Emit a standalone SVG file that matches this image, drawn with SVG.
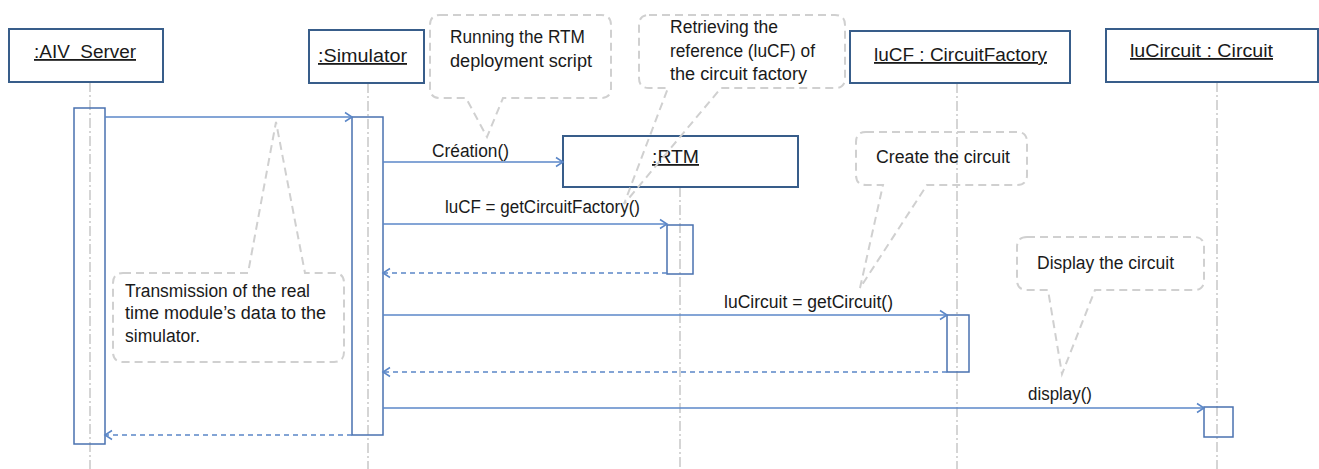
<svg xmlns="http://www.w3.org/2000/svg" width="1319" height="469" viewBox="0 0 1319 469">
<style>
text{font-family:"Liberation Sans",Arial,sans-serif;font-size:18px;fill:#1a1a1a}
.obj{fill:#fff;stroke:#385D8A;stroke-width:2}
.u{text-decoration:underline}
.life{stroke:#BFBFBF;stroke-width:1.3;stroke-dasharray:10 3 2 3;fill:none}
.act{fill:none;stroke:#4A72B0;stroke-width:1.5}
.msg{stroke:#5B87C8;stroke-width:1.5;fill:none;marker-end:url(#arr)}
.ret{stroke:#5B87C8;stroke-width:1.5;fill:none;stroke-dasharray:5 4;marker-end:url(#arr)}
.note{fill:none;stroke:#D0D0D0;stroke-width:2;stroke-dasharray:8 5}
</style>
<defs>
<marker id="arr" markerWidth="12" markerHeight="12" refX="9" refY="6" orient="auto" markerUnits="userSpaceOnUse">
<polyline points="2,1.5 9,6 2,10.5" fill="none" stroke="#5B87C8" stroke-width="1.5"/>
</marker>
</defs>
<rect width="1319" height="469" fill="#fff"/>
<g id="lifelines">
<line class="life" x1="90" y1="82" x2="90" y2="469"/>
<line class="life" x1="368" y1="83" x2="368" y2="469"/>
<line class="life" x1="680" y1="187" x2="680" y2="469"/>
<line class="life" x1="957" y1="83" x2="957" y2="469"/>
<line class="life" x1="1217" y1="82" x2="1217" y2="469"/>
</g>
<g id="aiv-server">
<rect class="obj" x="9" y="29" width="154" height="53"/>
<text class="u" x="34" y="58" textLength="102" lengthAdjust="spacingAndGlyphs">:AIV&#160; Server</text>
<rect class="act" x="74" y="108" width="31" height="336"/>
</g>
<g id="simulator">
<rect class="obj" x="309" y="30" width="115" height="53"/>
<text class="u" x="318" y="62" textLength="89" lengthAdjust="spacingAndGlyphs">:Simulator</text>
<rect class="act" x="352" y="117" width="31" height="318"/>
</g>
<g id="rtm">
<rect class="obj" x="563" y="136" width="235" height="51"/>
<text class="u" x="652" y="163" textLength="47" lengthAdjust="spacingAndGlyphs">:RTM</text>
<rect class="act" x="667" y="225" width="26" height="49"/>
</g>
<g id="circuit-factory">
<rect class="obj" x="850" y="31" width="220" height="52"/>
<text class="u" x="874" y="61" textLength="173" lengthAdjust="spacingAndGlyphs">luCF : CircuitFactory</text>
<rect class="act" x="947" y="315" width="22" height="57"/>
</g>
<g id="circuit">
<rect class="obj" x="1106" y="29" width="212" height="53"/>
<text class="u" x="1130" y="57" textLength="143" lengthAdjust="spacingAndGlyphs">luCircuit : Circuit</text>
<rect class="act" x="1204" y="407" width="29" height="30"/>
</g>
<g id="connectors">
<line class="msg" x1="105" y1="117" x2="352" y2="117"/>
<line class="msg" x1="383" y1="162" x2="563" y2="162"/>
<text x="432" y="157" textLength="77" lengthAdjust="spacingAndGlyphs">Création()</text>
<line class="msg" x1="383" y1="224" x2="667" y2="224"/>
<text x="445" y="213" textLength="195" lengthAdjust="spacingAndGlyphs">luCF = getCircuitFactory()</text>
<line class="ret" x1="667" y1="273" x2="383" y2="273"/>
<line class="msg" x1="383" y1="315" x2="947" y2="315"/>
<text x="724" y="308" textLength="169" lengthAdjust="spacingAndGlyphs">luCircuit = getCircuit()</text>
<line class="ret" x1="947" y1="372" x2="383" y2="372"/>
<line class="msg" x1="383" y1="408" x2="1204" y2="408"/>
<text x="1028" y="400" textLength="64" lengthAdjust="spacingAndGlyphs">display()</text>
<line class="ret" x1="352" y1="435" x2="105" y2="435"/>
</g>
<g id="note-rtm-script">
<path class="note" d="M440,15 H601 Q611,15 611,25 V88 Q611,98 601,98 H503 L487,137 L466,98 H440 Q430,98 430,88 V25 Q430,15 440,15 Z"/>
<text x="450" y="43" textLength="135" lengthAdjust="spacingAndGlyphs">Running the RTM</text>
<text x="450" y="67" textLength="142" lengthAdjust="spacingAndGlyphs">deployment script</text>
</g>
<g id="note-retrieve">
<path class="note" d="M649,15 H835 Q845,15 845,25 V78 Q845,88 835,88 H721 L624,204 L668,88 H649 Q639,88 639,78 V25 Q639,15 649,15 Z"/>
<text x="670" y="33" textLength="108" lengthAdjust="spacingAndGlyphs">Retrieving the</text>
<text x="670" y="57" textLength="145" lengthAdjust="spacingAndGlyphs">reference (luCF) of</text>
<text x="670" y="80" textLength="137" lengthAdjust="spacingAndGlyphs">the circuit factory</text>
</g>
<g id="note-create">
<path class="note" d="M866,132 H1017 Q1027,132 1027,142 V175 Q1027,185 1017,185 H927 L860,288 L883,185 H866 Q856,185 856,175 V142 Q856,132 866,132 Z"/>
<text x="876" y="163" textLength="134" lengthAdjust="spacingAndGlyphs">Create the circuit</text>
</g>
<g id="note-display">
<path class="note" d="M1027,237 H1194 Q1204,237 1204,247 V280 Q1204,290 1194,290 H1095 L1062,374 L1048,290 H1027 Q1017,290 1017,280 V247 Q1017,237 1027,237 Z"/>
<text x="1037" y="269" textLength="137" lengthAdjust="spacingAndGlyphs">Display the circuit</text>
</g>
<g id="note-transmission">
<path class="note" d="M123,273 H248 L276,122 L305,273 H334 Q344,273 344,283 V352 Q344,362 334,362 H123 Q113,362 113,352 V283 Q113,273 123,273 Z"/>
<text x="125" y="297" textLength="185" lengthAdjust="spacingAndGlyphs">Transmission of the real</text>
<text x="125" y="319" textLength="201" lengthAdjust="spacingAndGlyphs">time module’s data to the</text>
<text x="125" y="342" textLength="75" lengthAdjust="spacingAndGlyphs">simulator.</text>
</g>
</svg>
